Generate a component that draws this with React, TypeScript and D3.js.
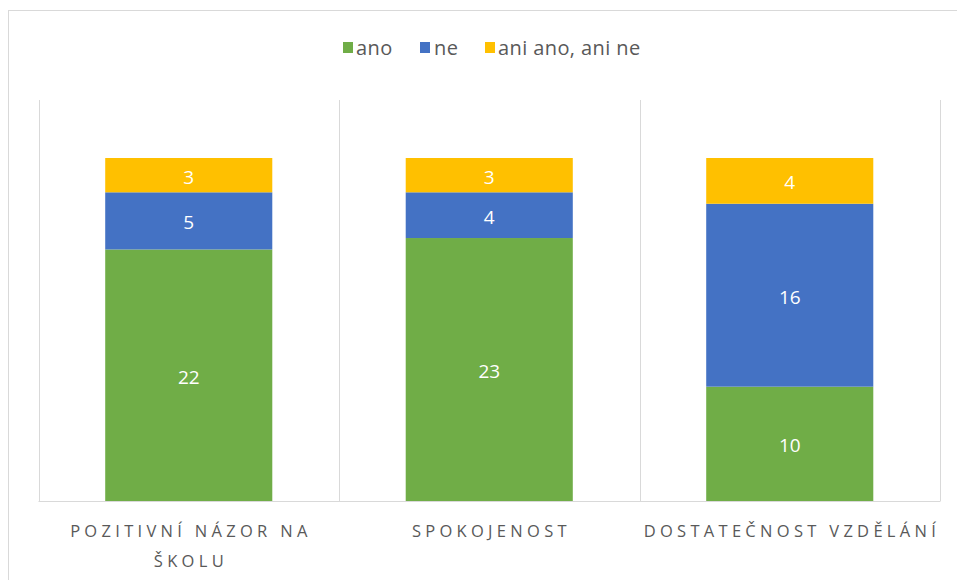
import React from "react";
import * as d3 from "d3";

const categories = ["Pozitivní názor na školu", "Spokojenost", "Dostatečnost vzdělání"];
const categoryLines = [["POZITIVNÍ NÁZOR NA", "ŠKOLU"], ["SPOKOJENOST"], ["DOSTATEČNOST VZDĚLÁNÍ"]];
const seriesNames = ["ano", "ne", "ani ano, ani ne"];
const seriesColors = ["#70AD47", "#4472C4", "#FFC000"];
const anoValues = [22, 23, 10];
const neValues = [5, 4, 16];
const aniValues = [3, 3, 4];

const W = 957;
const H = 580;
const FONT = "'Open Sans', 'DejaVu Sans', sans-serif";

export default function App() {
  const x = d3.scaleBand<string>().domain(categories).range([38.5, 940]).paddingInner(0).paddingOuter(0);
  const xb = d3.scaleBand<string>().domain(categories).range([38.5, 940]).paddingInner(0.444).paddingOuter(0.222);
  const y = d3.scaleLinear().domain([0, 30]).range([501, 158]);

  const rows = categories.map((c, i) => ({ cat: c, ano: anoValues[i], ne: neValues[i], ani: aniValues[i] }));
  const stack = d3.stack<any>().keys(["ano", "ne", "ani"]);
  const series = stack(rows);

  const gridXs = [...categories.map((c) => x(c) as number), 940];

  const legendItems = [
    { name: seriesNames[0], x: 343, tx: 356 },
    { name: seriesNames[1], x: 420, tx: 434 },
    { name: seriesNames[2], x: 485, tx: 498 },
  ];
  const ls = 4.3;

  return (
    <svg width={W} height={H} style={{ position: "absolute", left: 0, top: 0, background: "#fff" }}>
      <rect x={0} y={0} width={W} height={H} fill="#fff" />
      <rect x={8.5} y={10.5} width={W + 20} height={H + 20} fill="none" stroke="#D9D9D9" strokeWidth={1} />
      {/* legend */}
      {legendItems.map((l, i) => (
        <g key={l.name}>
          <rect x={l.x} y={42} width={10} height={11} fill={seriesColors[i]} />
          <text x={l.tx} y={55} fontFamily={FONT} fontSize={20} letterSpacing={0.4} fill="#595959">
            {l.name}
          </text>
        </g>
      ))}
      {/* gridlines */}
      {gridXs.map((gx, i) => (
        <line key={i} x1={Math.round(gx) + 0.5} x2={Math.round(gx) + 0.5} y1={100} y2={501} stroke="#D9D9D9" strokeWidth={1} />
      ))}
      {/* bars */}
      {series.map((s, si) => (
        <g key={s.key}>
          {s.map((d, di) => (
            <g key={di}>
              <rect
                x={xb(categories[di])}
                y={y(d[1])}
                width={xb.bandwidth()}
                height={y(d[0]) - y(d[1])}
                fill={seriesColors[si]}
              />
              <text
                x={(xb(categories[di]) as number) + xb.bandwidth() / 2}
                y={(y(d[0]) + y(d[1])) / 2}
                dy="0.45em"
                textAnchor="middle"
                fontFamily={FONT}
                fontSize={19}
                fill="#fff"
              >
                {d[1] - d[0]}
              </text>
            </g>
          ))}
        </g>
      ))}
      {/* axis line */}
      <line x1={38.5} x2={940.5} y1={501.5} y2={501.5} stroke="#D9D9D9" strokeWidth={1} />
      {/* category labels */}
      {categories.map((c, i) => (
        <g key={c}>
          {categoryLines[i].map((ln, li) => (
            <text
              key={li}
              x={(x(c) as number) + x.bandwidth() / 2 + ls / 2}
              y={537 + li * 30}
              textAnchor="middle"
              fontFamily={FONT}
              fontSize={16.5}
              letterSpacing={ls}
              fill="#595959"
            >
              {ln}
            </text>
          ))}
        </g>
      ))}
    </svg>
  );
}
